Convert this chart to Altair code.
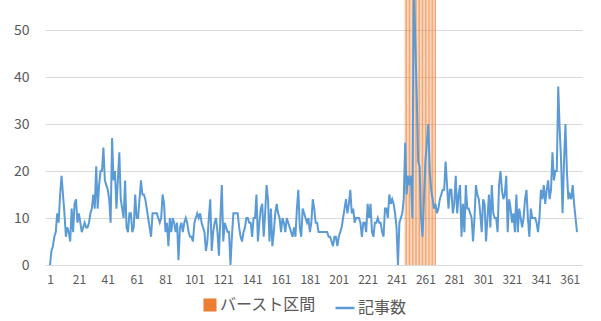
import altair as alt
import pandas as pd

# 記事数 (daily article counts), day 1 .. 366
counts = [
    0, 3, 4, 6, 7, 11, 9, 15, 19, 15, 11, 6, 8, 7, 5, 12, 7, 13, 14, 9,
    11, 9, 7, 8, 9, 8, 8, 9, 11, 12, 15, 12, 21, 12, 17, 20, 20, 25, 18, 17,
    16, 14, 9, 27, 18, 20, 12, 18, 24, 14, 12, 10, 18, 8, 7, 11, 11, 7, 8, 15,
    10, 10, 14, 18, 15, 15, 14, 12, 10, 8, 6, 11, 11, 11, 11, 10, 9, 10, 15, 13,
    7, 9, 4, 10, 7, 10, 9, 7, 9, 1, 8, 9, 7, 9, 10, 9, 7, 6, 6, 5,
    9, 10, 11, 10, 11, 9, 8, 7, 3, 5, 10, 14, 3, 7, 9, 10, 7, 2, 10, 17,
    5, 9, 8, 7, 7, 0, 6, 11, 11, 11, 11, 8, 6, 5, 7, 8, 10, 10, 9, 9,
    6, 10, 10, 15, 5, 9, 12, 13, 6, 11, 17, 14, 5, 12, 4, 7, 11, 13, 11, 10,
    7, 10, 9, 7, 10, 9, 8, 7, 6, 8, 6, 12, 16, 8, 6, 12, 11, 10, 9, 10,
    7, 9, 14, 12, 9, 9, 7, 7, 7, 7, 7, 7, 7, 6, 6, 5, 4, 6, 6, 4,
    6, 7, 8, 10, 12, 14, 11, 13, 16, 11, 12, 9, 10, 10, 10, 9, 6, 9, 9, 7,
    13, 10, 13, 7, 6, 9, 9, 10, 9, 9, 7, 6, 12, 12, 10, 15, 13, 14, 13, 11,
    8, 0, 9, 10, 11, 14, 26, 15, 19, 17, 19, 10, 60, 48, 36, 22, 21, 10, 6, 14,
    22, 26, 30, 20, 16, 14, 12, 13, 11, 12, 14, 15, 16, 16, 22, 17, 12, 16, 16, 11,
    13, 19, 11, 15, 17, 6, 13, 7, 17, 12, 12, 11, 10, 5, 10, 17, 15, 14, 11, 7,
    14, 13, 5, 10, 15, 8, 17, 11, 10, 10, 7, 17, 20, 16, 14, 15, 19, 7, 14, 12,
    9, 11, 7, 15, 7, 12, 10, 8, 10, 14, 16, 10, 6, 12, 10, 10, 10, 9, 7, 10,
    16, 14, 17, 13, 16, 18, 14, 16, 24, 18, 20, 20, 38, 29, 22, 11, 22, 30, 20, 14,
    15, 14, 17, 13, 10, 7,
]
days = list(range(1, len(counts) + 1))

# バースト区間 (burst interval days)
burst_days = list(range(247, 269))
burst_height = 60

x_ticks = [1, 21, 41, 61, 81, 101, 121, 141, 161, 181, 201, 221, 241, 261, 281, 301, 321, 341, 361]
y_ticks = [0, 10, 20, 30, 40, 50]

line_df = pd.DataFrame({"day": days, "count": counts, "series": ["記事数"] * len(days)})
bar_df = pd.DataFrame({"day": burst_days, "value": [burst_height] * len(burst_days),
                       "series": ["バースト区間"] * len(burst_days)})

FONT = "Noto Sans CJK JP"
GRAY = "#595959"

x_axis = alt.Axis(values=x_ticks, title=None, grid=False, domain=False, ticks=False,
                  labelFont=FONT, labelFontSize=12, labelColor=GRAY,
                  labelPadding=9, labelFlush=False, labelOverlap=False, labelSeparation=0,
                  labelBound=False)
x_scale = alt.Scale(domain=[1, 366], nice=False, zero=False)
y_axis = alt.Axis(values=y_ticks, title=None, domain=False, ticks=False,
                  gridColor="#D9D9D9", gridWidth=1,
                  labelFont=FONT, labelFontSize=14, labelColor=GRAY,
                  labelPadding=16, labelOverlap=False)
y_scale = alt.Scale(domain=[0, 56.4], nice=False)

bars = alt.Chart(bar_df).mark_bar(size=0.8, clip=True, opacity=0.85).encode(
    x=alt.X("day:Q", scale=x_scale, axis=x_axis),
    y=alt.Y("value:Q", scale=y_scale, axis=y_axis),
    color=alt.Color("series:N", scale=alt.Scale(domain=["バースト区間"], range=["#ED7D31"]),
                    legend=alt.Legend(orient="none", legendX=157, legendY=297, title=None,
                                      symbolType="square", symbolSize=170, padding=0,
                                      symbolOpacity=1,
                                      labelFont=FONT, labelFontSize=16, labelColor=GRAY,
                                      labelOffset=2)),
)

line = alt.Chart(line_df).mark_line(strokeWidth=2, clip=True).encode(
    x=alt.X("day:Q", scale=x_scale, axis=x_axis),
    y=alt.Y("count:Q", scale=y_scale, axis=y_axis),
    color=alt.Color("series:N", scale=alt.Scale(domain=["記事数"], range=["#5B9BD5"]),
                    legend=alt.Legend(orient="none", legendX=289, legendY=297, title=None,
                                      symbolType="stroke", symbolSize=360, symbolStrokeWidth=2.5,
                                      padding=0,
                                      labelFont=FONT, labelFontSize=16, labelColor=GRAY,
                                      labelOffset=2)),
)

chart = alt.layer(bars, line).resolve_scale(color="independent").properties(
    width=537, height=265,
    background="white",
    autosize=alt.AutoSizeParams(type="none"),
    padding={"left": 45, "top": 0, "right": 19, "bottom": 56},
).configure_view(stroke=None)

chart.save("out.html", embed_options={"renderer": "svg", "actions": False})
